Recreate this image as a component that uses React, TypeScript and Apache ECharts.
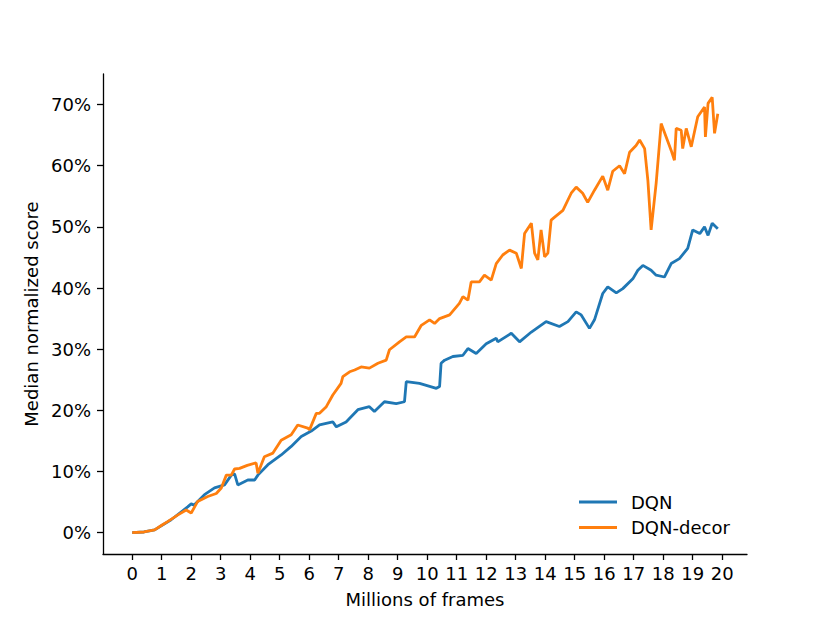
import React, { useEffect, useRef } from "react";
import * as echarts from "echarts";

const seriesNames = ["DQN", "DQN-decor"];
const xTicks = [0, 1, 2, 3, 4, 5, 6, 7, 8, 9, 10, 11, 12, 13, 14, 15, 16, 17, 18, 19, 20];
const yTicks = [0, 10, 20, 30, 40, 50, 60, 70];

const dqnX = [0, 0.4, 0.76, 1.32, 1.88, 2.0, 2.1, 2.45, 2.79, 3.13, 3.36, 3.47, 3.58, 3.92, 4.15, 4.26, 4.6, 5.05, 5.39, 5.73, 6.07, 6.35, 6.8, 6.92, 7.25, 7.65, 8.04, 8.21, 8.55, 8.95, 9.23, 9.29, 9.74, 10.31, 10.42, 10.47, 10.59, 10.87, 11.21, 11.38, 11.66, 12.0, 12.34, 12.39, 12.85, 13.13, 13.53, 14.03, 14.48, 14.77, 15.05, 15.22, 15.5, 15.67, 15.95, 16.12, 16.41, 16.63, 16.97, 17.14, 17.31, 17.59, 17.76, 18.04, 18.27, 18.55, 18.83, 19.0, 19.24, 19.4, 19.52, 19.66, 19.85];
const dqnY = [0, 0.1, 0.44, 2.1, 4.2, 4.7, 4.5, 6.2, 7.3, 7.8, 9.4, 9.6, 7.8, 8.6, 8.6, 9.4, 11.1, 12.7, 14.1, 15.7, 16.6, 17.6, 18.1, 17.3, 18.1, 20.1, 20.6, 19.8, 21.4, 21.1, 21.4, 24.7, 24.4, 23.6, 23.9, 27.7, 28.2, 28.8, 29.0, 30.1, 29.3, 30.9, 31.8, 31.2, 32.6, 31.2, 32.8, 34.5, 33.7, 34.5, 36.1, 35.6, 33.4, 34.8, 39.1, 40.2, 39.2, 39.9, 41.5, 42.9, 43.7, 42.9, 42.1, 41.8, 44.0, 44.8, 46.5, 49.5, 48.9, 50.0, 48.6, 50.6, 49.7];

const decorX = [0, 0.4, 0.76, 1.0, 1.2, 1.55, 1.83, 2.0, 2.22, 2.56, 2.85, 3.02, 3.19, 3.36, 3.47, 3.64, 3.9, 4.2, 4.26, 4.48, 4.77, 5.05, 5.39, 5.61, 5.95, 6.01, 6.24, 6.35, 6.58, 6.8, 7.08, 7.14, 7.37, 7.54, 7.76, 8.04, 8.33, 8.61, 8.72, 9.06, 9.29, 9.57, 9.8, 10.08, 10.25, 10.42, 10.76, 11.09, 11.21, 11.38, 11.49, 11.77, 11.94, 12.17, 12.34, 12.56, 12.79, 13.02, 13.19, 13.3, 13.53, 13.64, 13.75, 13.86, 13.98, 14.09, 14.2, 14.32, 14.6, 14.88, 15.05, 15.27, 15.44, 15.67, 15.95, 16.12, 16.29, 16.52, 16.69, 16.86, 17.08, 17.2, 17.37, 17.48, 17.59, 17.76, 17.93, 18.1, 18.27, 18.38, 18.44, 18.61, 18.66, 18.78, 18.95, 19.17, 19.4, 19.43, 19.52, 19.66, 19.74, 19.85];
const decorY = [0, 0.1, 0.44, 1.2, 1.8, 2.9, 3.7, 3.2, 5.1, 5.9, 6.4, 7.3, 9.4, 9.4, 10.4, 10.5, 11.0, 11.4, 9.7, 12.4, 13.0, 15.1, 16.0, 17.6, 17.1, 16.8, 19.5, 19.5, 20.6, 22.5, 24.4, 25.5, 26.3, 26.6, 27.1, 26.9, 27.7, 28.2, 29.9, 31.2, 32.0, 32.0, 33.9, 34.8, 34.2, 35.0, 35.6, 37.5, 38.6, 38.0, 41.0, 41.0, 42.1, 41.3, 44.0, 45.4, 46.2, 45.7, 43.2, 48.9, 50.6, 45.7, 44.6, 49.5, 45.1, 45.7, 51.1, 51.6, 52.7, 55.5, 56.5, 55.5, 54.0, 56.0, 58.3, 56.0, 59.1, 60.0, 58.7, 62.2, 63.3, 64.2, 62.8, 57.6, 49.5, 57.1, 66.9, 64.7, 62.5, 60.9, 66.1, 65.8, 62.8, 66.1, 63.1, 68.0, 69.6, 64.7, 70.2, 71.2, 65.3, 68.5];

const colors = ["#1f77b4", "#ff7f0e"];
const FONT = "DejaVu Sans";

export default function App() {
  const ref = useRef<HTMLDivElement>(null);
  useEffect(() => {
    if (!ref.current) return;
    const chart = echarts.init(ref.current, null, { renderer: "svg" });
    const pairs = (xs: number[], ys: number[]) => xs.map((x, i) => [x, ys[i]]);
    chart.setOption({
      animation: false,
      backgroundColor: "#ffffff",
      textStyle: { fontFamily: FONT },
      grid: { left: 103, right: 83, top: 74, bottom: 69, containLabel: false },
      legend: {
        orient: "vertical",
        left: 574,
        top: 488,
        icon: "rect",
        itemWidth: 38,
        itemHeight: 3,
        itemGap: 7.5,
        textStyle: { fontFamily: FONT, fontSize: 18, color: "#000", padding: [0, 0, 0, 9] },
        data: seriesNames,
      },
      xAxis: {
        type: "value",
        min: -0.99,
        max: 20.84,
        name: "Millions of frames",
        nameLocation: "middle",
        nameGap: 36,
        nameTextStyle: { fontFamily: FONT, fontSize: 18, color: "#000" },
        splitLine: { show: false },
        axisLine: { onZero: false, lineStyle: { color: "#000", width: 1.3 } },
        axisTick: { show: true, length: 6, lineStyle: { color: "#000", width: 1.3 }, customValues: xTicks },
        axisLabel: { fontFamily: FONT, fontSize: 18, color: "#000", margin: 10, customValues: xTicks },
      },
      yAxis: {
        type: "value",
        min: -3.5,
        max: 75,
        name: "Median normalized score",
        nameLocation: "middle",
        nameGap: 58,
        nameTextStyle: { fontFamily: FONT, fontSize: 18, color: "#000" },
        splitLine: { show: false },
        axisLine: { show: true, onZero: false, lineStyle: { color: "#000", width: 1.3 } },
        axisTick: { show: true, length: 6, lineStyle: { color: "#000", width: 1.3 }, customValues: yTicks },
        axisLabel: {
          fontFamily: FONT,
          fontSize: 18,
          color: "#000",
          margin: 12,
          customValues: yTicks,
          formatter: (v: number) => `${v}%`,
        },
      },
      series: [
        {
          name: seriesNames[0],
          type: "line",
          data: pairs(dqnX, dqnY),
          showSymbol: false,
          symbol: "none",
          color: colors[0],
          lineStyle: { color: colors[0], width: 2.8 },
        },
        {
          name: seriesNames[1],
          type: "line",
          data: pairs(decorX, decorY),
          showSymbol: false,
          symbol: "none",
          color: colors[1],
          lineStyle: { color: colors[1], width: 2.8 },
        },
      ],
    });
    return () => chart.dispose();
  }, []);
  return (
    <div
      ref={ref}
      style={{ position: "fixed", left: 0, top: 0, width: 830, height: 623, background: "#fff" }}
    />
  );
}
